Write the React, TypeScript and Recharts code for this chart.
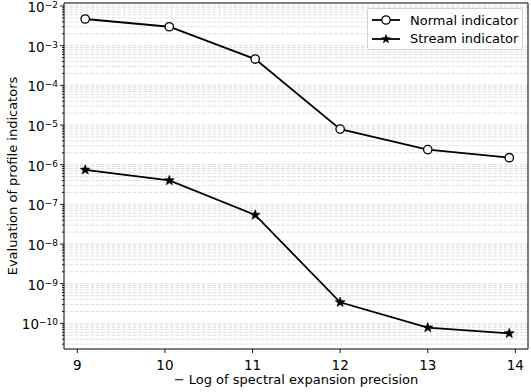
import React from "react";
import {
  LineChart,
  Line,
  XAxis,
  YAxis,
  CartesianGrid,
  ReferenceArea,
  Legend,
  Label,
} from "recharts";

const X_VALUES = [9.09, 10.05, 11.03, 12.0, 13.0, 13.93];
const NORMAL = [4.7e-3, 3.0e-3, 4.6e-4, 7.9e-6, 2.4e-6, 1.5e-6];
const STREAM = [7.4e-7, 4.0e-7, 5.4e-8, 3.4e-10, 7.8e-11, 5.6e-11];
const X_TICKS = [9, 10, 11, 12, 13, 14];
const DECADES = [-11, -10, -9, -8, -7, -6, -5, -4, -3, -2];

const X_DOMAIN: [number, number] = [8.848, 14.144];
const Y_DOMAIN: [number, number] = [2.26e-11, 1.19e-2];
const FONT = "DejaVu Sans";
const FS = 13;
const TICK_FS = 13.5;

const data = X_VALUES.map((x, i) => ({ x, normal: NORMAL[i], stream: STREAM[i] }));

// every 1..9 x 10^k inside the domain, used for minor ticks + grid
const logValues: number[] = [];
DECADES.forEach((k) => {
  for (let m = 1; m <= 9; m++) {
    const v = m * Math.pow(10, k);
    if (v >= Y_DOMAIN[0] && v <= Y_DOMAIN[1]) logValues.push(v);
  }
});

const isMajor = (v: number) => {
  const l = Math.log10(v);
  return Math.abs(l - Math.round(l)) < 1e-6;
};

// eslint-disable-next-line @typescript-eslint/no-explicit-any
function YTick({ x, y, payload }: any) {
  const major = isMajor(payload.value);
  const exp = Math.round(Math.log10(payload.value));
  return (
    <g>
      <line x1={x - (major ? 4 : 2)} x2={x} y1={y} y2={y} stroke="#000" strokeWidth={0.9} />
      {major && (
        <text x={x - 6} y={y} dy={6} textAnchor="end" fontSize={TICK_FS} fontFamily={FONT} fill="#000">
          <tspan>10</tspan>
          <tspan dy={-4} fontSize={9}>{"\u2212" + Math.abs(exp)}</tspan>
        </text>
      )}
    </g>
  );
}

// eslint-disable-next-line @typescript-eslint/no-explicit-any
function XTick({ x, y, payload }: any) {
  return (
    <g>
      <line x1={x} x2={x} y1={y} y2={y + 4} stroke="#000" strokeWidth={0.9} />
      <text x={x} y={y + 21} textAnchor="middle" fontSize={TICK_FS} fontFamily={FONT} fill="#000">
        {payload.value}
      </text>
    </g>
  );
}

function starPoints(cx: number, cy: number, ro: number, ri: number) {
  const pts: string[] = [];
  for (let i = 0; i < 10; i++) {
    const r = i % 2 === 0 ? ro : ri;
    const a = -Math.PI / 2 + (i * Math.PI) / 5;
    pts.push(`${cx + r * Math.cos(a)},${cy + r * Math.sin(a)}`);
  }
  return pts.join(" ");
}

// eslint-disable-next-line @typescript-eslint/no-explicit-any
const StarDot = (props: any) => (
  <polygon key={`s-${props.index}`} points={starPoints(props.cx, props.cy, 5.2, 2.2)} fill="#000" stroke="#000" strokeWidth={0.6} />
);

// eslint-disable-next-line @typescript-eslint/no-explicit-any
const CircleDot = (props: any) => (
  <circle key={`c-${props.index}`} cx={props.cx} cy={props.cy} r={4.2} fill="#fff" stroke="#000" strokeWidth={1.3} />
);

function LegendBox() {
  const rows = [
    { name: "Normal indicator", star: false },
    { name: "Stream indicator", star: true },
  ];
  return (
    <div
      style={{
        border: "1px solid #d0d0d0",
        borderRadius: 3,
        background: "rgba(255,255,255,0.85)",
        padding: "2px 0",
        boxSizing: "border-box",
        height: 42,
        fontFamily: FONT,
        fontSize: FS,
        color: "#000",
      }}
    >
      {rows.map((r) => (
        <div key={r.name} style={{ display: "flex", alignItems: "center", height: 18.5 }}>
          <svg width={42} height={14} style={{ flex: "none" }}>
            <line x1={4} x2={32} y1={7} y2={7} stroke="#000" strokeWidth={1.8} />
            {r.star ? (
              <polygon points={starPoints(18, 7, 5.2, 2.2)} fill="#000" />
            ) : (
              <circle cx={18} cy={7} r={4.2} fill="#fff" stroke="#000" strokeWidth={1.3} />
            )}
          </svg>
          <span style={{ whiteSpace: "nowrap" }}>{r.name}</span>
        </div>
      ))}
    </div>
  );
}

export default function App() {
  return (
    <div style={{ position: "absolute", left: 0, top: 0, background: "#fff" }}>
      <LineChart
        width={531}
        height={392}
        data={data}
        margin={{ top: 3, right: 3, bottom: 0, left: 0 }}
      >
        <CartesianGrid
          horizontal
          vertical={false}
          horizontalValues={logValues}
          stroke="#d6d6d6"
          strokeWidth={0.8}
          strokeDasharray="3.7 1.6"
        />
        <XAxis
          type="number"
          dataKey="x"
          domain={X_DOMAIN}
          allowDataOverflow
          ticks={X_TICKS}
          interval={0}
          height={43}
          tickSize={0}
          tickMargin={0}
          tickLine={false}
          axisLine={false}
          tick={<XTick />}
        >
          <Label
            content={() => (
              <text x={296} y={384} textAnchor="middle" fontSize={FS} fontFamily={FONT} fill="#000">
                {"\u2212 Log of spectral expansion precision"}
              </text>
            )}
          />
        </XAxis>
        <YAxis
          type="number"
          scale="log"
          domain={Y_DOMAIN}
          allowDataOverflow
          ticks={logValues}
          interval={0}
          width={64}
          tickSize={0}
          tickMargin={0}
          tickLine={false}
          axisLine={false}
          tick={<YTick />}
        >
          <Label
            content={() => (
              <text
                x={12}
                y={176}
                transform="rotate(-90 12 176)"
                textAnchor="middle"
                dominantBaseline="central"
                fontSize={FS}
                fontFamily={FONT}
                fill="#000"
              >
                Evaluation of profile indicators
              </text>
            )}
          />
        </YAxis>
        <ReferenceArea
          x1={X_DOMAIN[0]}
          x2={X_DOMAIN[1]}
          y1={Y_DOMAIN[0]}
          y2={Y_DOMAIN[1]}
          fill="none"
          stroke="#000"
          strokeWidth={1}
          ifOverflow="visible"
        />
        <Line
          dataKey="normal"
          name="Normal indicator"
          stroke="#000"
          strokeWidth={1.8}
          dot={CircleDot}
          isAnimationActive={false}
        />
        <Line
          dataKey="stream"
          name="Stream indicator"
          stroke="#000"
          strokeWidth={1.8}
          dot={StarDot}
          isAnimationActive={false}
        />
        <Legend
          layout="vertical"
          align="center"
          verticalAlign="middle"
          content={() => <LegendBox />}
          wrapperStyle={{ left: 367, top: 8, width: 156, height: 42, right: "auto", bottom: "auto" }}
        />
      </LineChart>
    </div>
  );
}
